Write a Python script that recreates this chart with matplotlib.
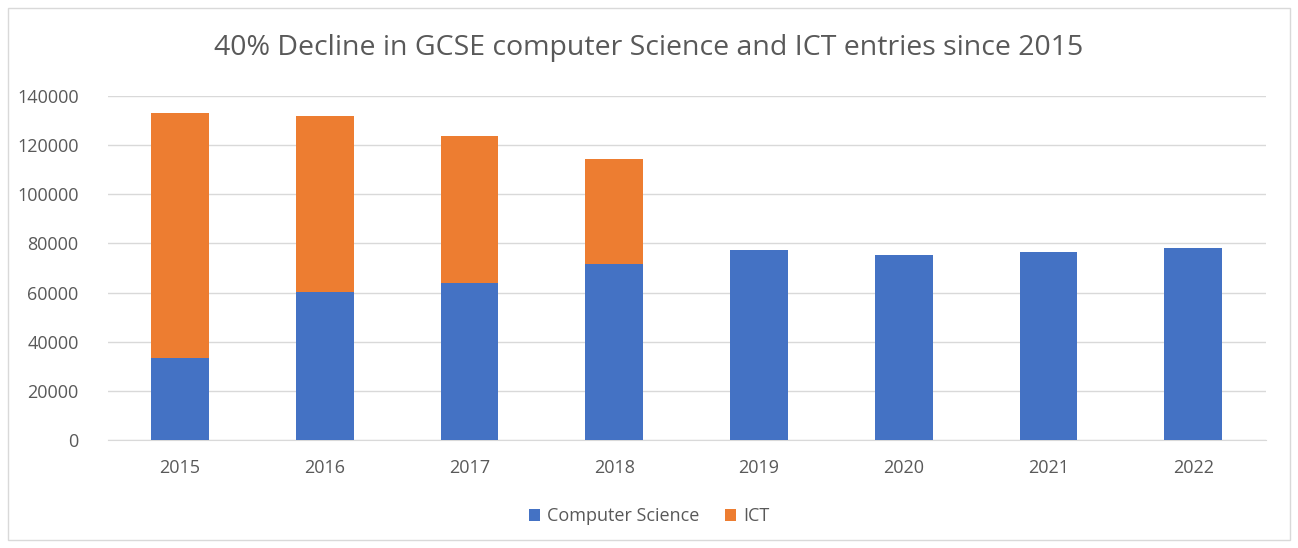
import matplotlib.pyplot as plt
from matplotlib.patches import Rectangle

years = ["2015", "2016", "2017", "2018", "2019", "2020", "2021", "2022"]
computer_science = [33200, 60200, 63800, 71800, 77400, 75300, 76700, 78000]
ict = [99900, 71500, 59800, 42500, 0, 0, 0, 0]
yticks = [0, 20000, 40000, 60000, 80000, 100000, 120000, 140000]

blue = "#4472C4"
orange = "#ED7D31"
grey_text = "#595959"

plt.rcParams["font.family"] = ["Open Sans", "DejaVu Sans"]

fig = plt.figure(figsize=(12.98, 5.48), dpi=100)
ax = fig.add_axes([0.083, 0.197, 0.892, 0.628])

x = range(len(years))
ax.bar(x, computer_science, width=0.4, color=blue, label="Computer Science", zorder=3)
# only draw ICT where there is a value
ict_x = [i for i in x if ict[i] > 0]
ax.bar(ict_x, [ict[i] for i in ict_x], width=0.4,
       bottom=[computer_science[i] for i in ict_x],
       color=orange, label="ICT", zorder=3)

ax.set_xlim(-0.5, len(years) - 0.5)
ax.set_ylim(0, 140000)
ax.set_yticks(yticks)
ax.set_yticklabels([str(v) for v in yticks])
ax.set_xticks(list(x))
ax.set_xticklabels(years)
ax.grid(axis="y", color="#d9d9d9", linewidth=1, zorder=0)
for s in ["top", "right", "left"]:
    ax.spines[s].set_visible(False)
ax.spines["bottom"].set_color("#d9d9d9")
ax.tick_params(axis="both", length=0, colors=grey_text, labelsize=13)
ax.tick_params(axis="y", pad=21)
ax.tick_params(axis="x", pad=14)

fig.text(0.5, 0.912, "40% Decline in GCSE computer Science and ICT entries since 2015",
         ha="center", va="center", fontsize=20.5, color=grey_text)

leg = fig.legend(loc="center", bbox_to_anchor=(0.5, 0.058), ncol=2, frameon=False,
                 fontsize=13, handlelength=0.6, handleheight=0.6, columnspacing=1.4,
                 handletextpad=0.4)
for t in leg.get_texts():
    t.set_color(grey_text)

fig.patches.append(Rectangle((0.006, 0.015), 0.988, 0.97, transform=fig.transFigure,
                             fill=False, edgecolor="#d9d9d9", linewidth=1))

fig.savefig("out.png", dpi=100)
